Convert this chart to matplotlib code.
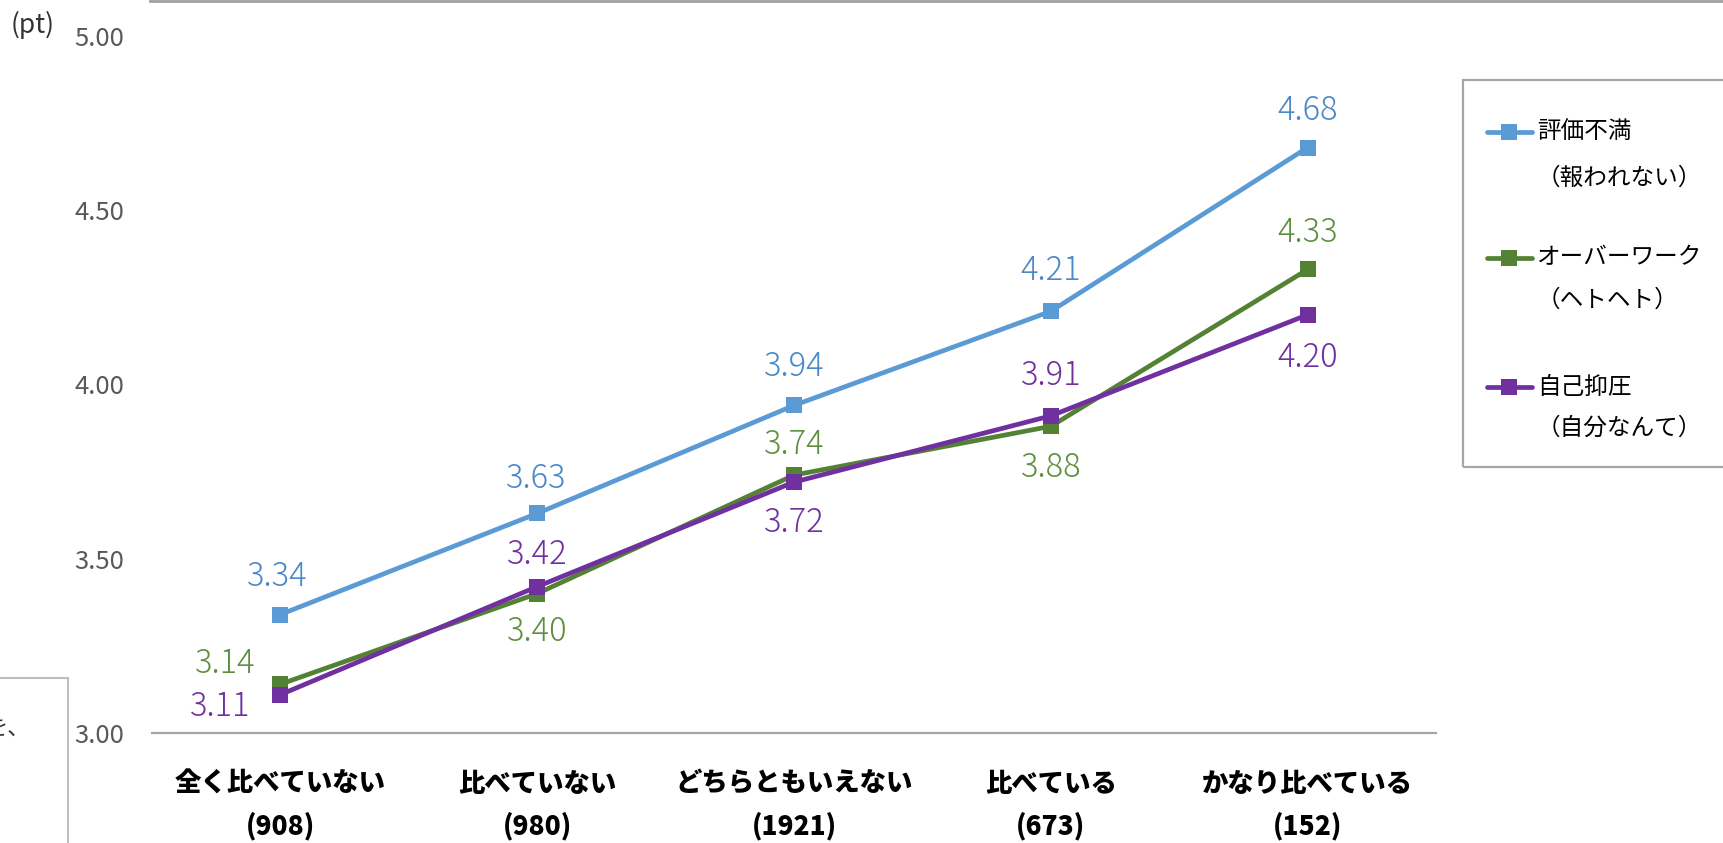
import numpy as np
import matplotlib
matplotlib.use('Agg')
import matplotlib.pyplot as plt
from matplotlib.lines import Line2D
from matplotlib.patches import Rectangle

plt.rcParams['font.family'] = ['Noto Sans CJK JP', 'DejaVu Sans']

# ---------------- data ----------------
categories = ['全く比べていない', '比べていない', 'どちらともいえない', '比べている', 'かなり比べている']
counts = ['908', '980', '1921', '673', '152']
series_names = ['評価不満', 'オーバーワーク', '自己抑圧']
series_sub = ['（報われない）', '（ヘトヘト）', '（自分なんて）']
hyouka = [3.34, 3.63, 3.94, 4.21, 4.68]
overwork = [3.14, 3.40, 3.74, 3.88, 4.33]
yokuatsu = [3.11, 3.42, 3.72, 3.91, 4.20]
yticks = [3.00, 3.50, 4.00, 4.50, 5.00]

# ---------------- style ----------------
line_colors = ['#5B9BD5', '#548235', '#7030A0']
label_colors = ['#4A88C7', '#5E8F3E', '#7030A0']
# data-label offsets in pixels (dx, dy up)
label_offsets = [
    [(-3, 38), (-1, 35), (0, 39), (0, 41), (0, 37)],
    [(-55, 20), (0, -38), (0, 30), (0, -41), (0, 37)],
    [(-60, -12), (0, 32), (0, -41), (0, 40), (0, -43)],
]

W, H = 1724, 843
fig = plt.figure(figsize=(W / 100, H / 100), dpi=100)
ax = fig.add_axes([152 / W, (H - 733) / H, 1284 / W, 697 / H])

x = np.arange(len(categories))
all_series = [hyouka, overwork, yokuatsu]
for vals, lc, tc, offs in zip(all_series, line_colors, label_colors, label_offsets):
    ax.plot(x, vals, color=lc, lw=3.4, marker='s', markersize=12,
            markeredgewidth=0, clip_on=False, solid_capstyle='round')
    for xi, v, (dx, dy) in zip(x, vals, offs):
        ax.annotate(f'{v:.2f}', (xi, v), xytext=(dx, dy), textcoords='offset pixels',
                    ha='center', va='center', fontsize=23.5, color=tc,
                    fontweight='light')

ax.set_xlim(-0.5, len(categories) - 0.5)
ax.set_ylim(3.0, 5.0)
ax.set_yticks(yticks)
ax.set_yticklabels([f'{t:.2f}' for t in yticks])
ax.set_xticks(x)
ax.set_xticklabels([f'{c}\n({n})' for c, n in zip(categories, counts)],
                   fontsize=19, fontweight='heavy', linespacing=1.6)
ax.tick_params(axis='y', length=0, pad=20, labelsize=18.5, labelcolor='#595959')
ax.tick_params(axis='x', length=0, pad=26, labelcolor='black')
for s in ['left', 'top', 'right']:
    ax.spines[s].set_visible(False)
ax.spines['bottom'].set_color('#A6A6A6')
ax.spines['bottom'].set_linewidth(1.6)


def fx(px):
    return px / W


def fy(py):
    return 1 - py / H


# unit label
fig.text(fx(11), fy(25), '(pt)', ha='left', va='center', fontsize=19, color='#333333')

# legend (drawn manually to mimic the reference layout)
fig.add_artist(Rectangle((fx(1463), fy(467)), fx(1750) - fx(1463), fy(80) - fy(467),
                         transform=fig.transFigure, fill=False, edgecolor='#A6A6A6',
                         lw=1.6, clip_on=False))
rows_main = [132, 258, 387]
rows_sub = [178, 300, 428]
for name, sub, lc, ym, ys in zip(series_names, series_sub, line_colors, rows_main, rows_sub):
    fig.add_artist(Line2D([fx(1487), fx(1532)], [fy(ym), fy(ym)], transform=fig.transFigure,
                          color=lc, lw=3.4, solid_capstyle='round'))
    fig.add_artist(Line2D([fx(1509.5)], [fy(ym)], transform=fig.transFigure,
                          color=lc, marker='s', markersize=12, markeredgewidth=0))
    fig.text(fx(1537), fy(ym), name, ha='left', va='center', fontsize=17, color='black')
    fig.text(fx(1537), fy(ys), sub, ha='left', va='center', fontsize=17, color='black')

# partial box at bottom-left
fig.add_artist(Rectangle((fx(-5), fy(860)), fx(68) - fx(-5), fy(678) - fy(860),
                         transform=fig.transFigure, fill=False, edgecolor='#BFBFBF',
                         lw=1.5, clip_on=False))
fig.text(fx(30), fy(728), 'を、', ha='right', va='center', fontsize=16, color='#333333')

# top border line
fig.add_artist(Line2D([fx(150), fx(1724)], [fy(0.8), fy(0.8)], transform=fig.transFigure,
                      color='#A0A0A0', lw=2))

fig.savefig('out.png', dpi=100)
